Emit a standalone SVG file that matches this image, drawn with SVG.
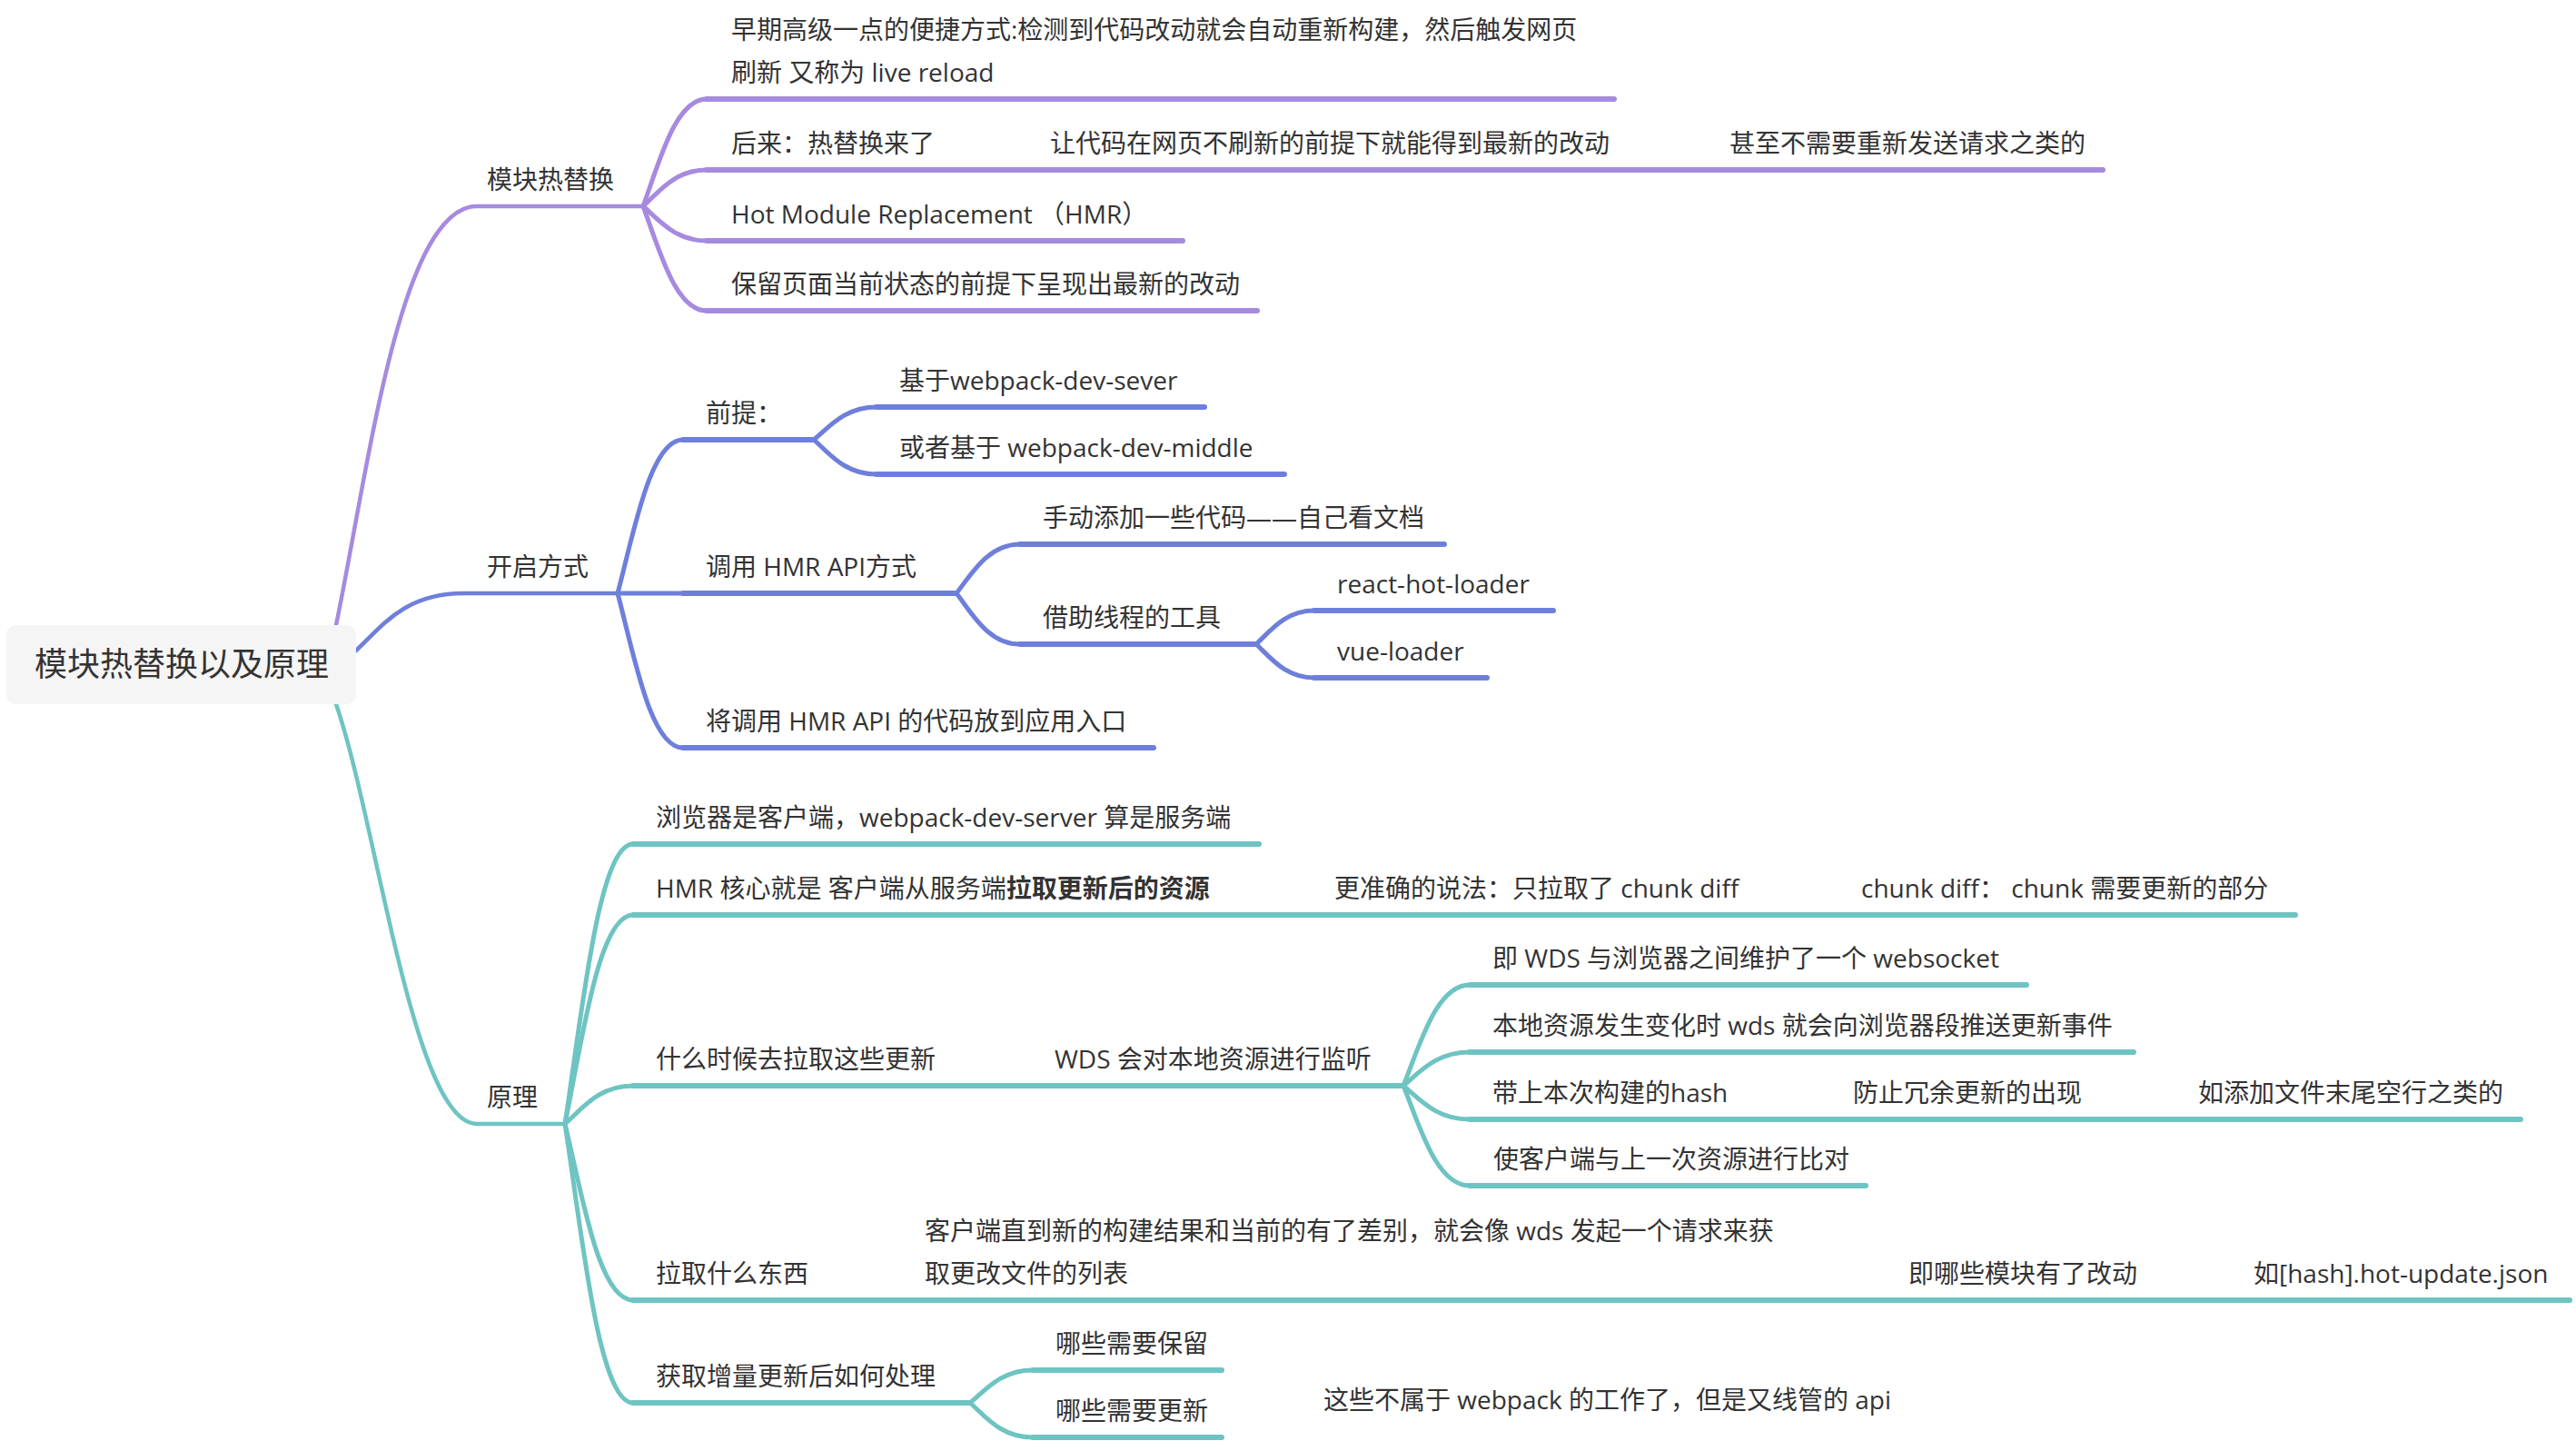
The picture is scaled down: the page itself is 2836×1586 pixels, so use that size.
<svg xmlns="http://www.w3.org/2000/svg" width="2836" height="1586" viewBox="0 0 2836 1586">
<style>
text{font-family:"Open Sans","Noto Sans CJK SC",sans-serif;font-size:28px;fill:#333}
.root{font-size:36px;text-anchor:middle}
.b{font-weight:bold}
path,line{fill:none;stroke-linecap:round;stroke-linejoin:round}
.p{stroke:#a68ae0}
.u{stroke:#6e7fdb}
.t{stroke:#6ec4c2}
.ul{stroke-width:6}
.mb{stroke-width:4.5}
.cn{stroke-width:5}
</style>
<rect width="2836" height="1586" fill="#ffffff"/>
<g id="connectors">
<path class="p mb" d="M370,688 C405,520 440,227 525,227 H708"/>
<path class="u mb" d="M392,716 C420,690 445,653 510,653 H680"/>
<path class="t mb" d="M370,775 C415,905 455,1237 525,1237 H622"/>
<path class="p cn" d="M708,227 C725.5,180 743,109 778,109"/>
<path class="p cn" d="M708,227 C725.5,211 743,187 778,187"/>
<path class="p cn" d="M708,227 C725.5,242 743,265 778,265"/>
<path class="p cn" d="M708,227 C725.5,273 743,342 778,342"/>
<path class="u cn" d="M680,653 C698,585 716,484 752,484"/>
<path class="u cn" d="M680,653 H752"/>
<path class="u cn" d="M680,653 C698,721 716,823 752,823"/>
<path class="u cn" d="M896,484 C913,470 930,448 965,448"/>
<path class="u cn" d="M896,484 C913,499 930,522 965,522"/>
<path class="u cn" d="M1053,653 C1070,631 1088,599 1123,599"/>
<path class="u cn" d="M1053,653 C1070,675 1088,709 1123,709"/>
<path class="u cn" d="M1383,709 C1399,694 1415,672 1447,672"/>
<path class="u cn" d="M1383,709 C1399,724 1415,746 1447,746"/>
<path class="t cn" d="M622,1237 C641,1114 659,929 697,929"/>
<path class="t cn" d="M622,1237 C641,1145 659,1007 697,1007"/>
<path class="t cn" d="M622,1237 C641,1220 659,1195 697,1195"/>
<path class="t cn" d="M622,1237 C641,1315 659,1431 697,1431"/>
<path class="t cn" d="M622,1237 C641,1360 659,1544 697,1544"/>
<path class="t cn" d="M1545,1195 C1563,1151 1581,1084 1618,1084"/>
<path class="t cn" d="M1545,1195 C1563,1180 1581,1158 1618,1158"/>
<path class="t cn" d="M1545,1195 C1563,1210 1581,1232 1618,1232"/>
<path class="t cn" d="M1545,1195 C1563,1239 1581,1305 1618,1305"/>
<path class="t cn" d="M1068,1544 C1085,1530 1102,1508 1137,1508"/>
<path class="t cn" d="M1068,1544 C1085,1559 1102,1582 1137,1582"/>
</g>
<g id="root">
<rect x="7" y="688" width="385" height="87" rx="10" fill="#f5f5f5"/>
<text class="root" x="200" y="744">模块热替换以及原理</text>
</g>
<g id="n-mkrth"><text x="536" y="208">模块热替换</text></g>
<g id="n-early"><path class="p ul" d="M778,109 H1777"/><text x="805" y="43">早期高级一点的便捷方式:检测到代码改动就会自动重新构建，然后触发网页</text><text x="805" y="90">刷新 又称为 live reload</text></g>
<g id="n-later"><path class="p ul" d="M778,187 H1140"/><text x="805" y="168">后来：热替换来了</text></g>
<g id="n-later2"><path class="p ul" d="M1140,187 H1880"/><text x="1156" y="168">让代码在网页不刷新的前提下就能得到最新的改动</text></g>
<g id="n-later3"><path class="p ul" d="M1880,187 H2315"/><text x="1904" y="168">甚至不需要重新发送请求之类的</text></g>
<g id="n-hmr"><path class="p ul" d="M778,265 H1302"/><text x="805" y="246">Hot Module Replacement （HMR）</text></g>
<g id="n-keep"><path class="p ul" d="M778,342 H1384"/><text x="805" y="323">保留页面当前状态的前提下呈现出最新的改动</text></g>
<g id="n-kqfs"><text x="536" y="634">开启方式</text></g>
<g id="n-qt"><path class="u ul" d="M752,484 H896"/><text x="777" y="465">前提：</text></g>
<g id="n-wds"><path class="u ul" d="M965,448 H1326"/><text x="990" y="429">基于webpack-dev-sever</text></g>
<g id="n-wdm"><path class="u ul" d="M965,522 H1414"/><text x="990" y="503">或者基于 webpack-dev-middle</text></g>
<g id="n-api"><path class="u ul" d="M752,653 H1053"/><text x="777" y="634">调用 HMR API方式</text></g>
<g id="n-manual"><path class="u ul" d="M1123,599 H1590"/><text x="1148" y="580">手动添加一些代码——自己看文档</text></g>
<g id="n-tool"><path class="u ul" d="M1123,709 H1383"/><text x="1148" y="690">借助线程的工具</text></g>
<g id="n-react"><path class="u ul" d="M1447,672 H1710"/><text x="1472" y="653">react-hot-loader</text></g>
<g id="n-vue"><path class="u ul" d="M1447,746 H1637"/><text x="1472" y="727">vue-loader</text></g>
<g id="n-entry"><path class="u ul" d="M752,823 H1270"/><text x="777" y="804">将调用 HMR API 的代码放到应用入口</text></g>
<g id="n-yl"><text x="536" y="1218">原理</text></g>
<g id="n-cs"><path class="t ul" d="M697,929 H1386"/><text x="722" y="910">浏览器是客户端，webpack-dev-server 算是服务端</text></g>
<g id="n-core"><path class="t ul" d="M697,1007 H1445"/><text x="722" y="988">HMR 核心就是 客户端从服务端<tspan class="b">拉取更新后的资源</tspan></text></g>
<g id="n-core2"><path class="t ul" d="M1445,1007 H2025"/><text x="1469" y="988">更准确的说法：只拉取了 chunk diff</text></g>
<g id="n-core3"><path class="t ul" d="M2025,1007 H2527"/><text x="2049" y="988">chunk diff： chunk 需要更新的部分</text></g>
<g id="n-when"><path class="t ul" d="M697,1195 H1137"/><text x="722" y="1176">什么时候去拉取这些更新</text></g>
<g id="n-watch"><path class="t ul" d="M1137,1195 H1545"/><text x="1161" y="1176">WDS 会对本地资源进行监听</text></g>
<g id="n-ws"><path class="t ul" d="M1618,1084 H2231"/><text x="1643" y="1065">即 WDS 与浏览器之间维护了一个 websocket</text></g>
<g id="n-push"><path class="t ul" d="M1618,1158 H2349"/><text x="1643" y="1139">本地资源发生变化时 wds 就会向浏览器段推送更新事件</text></g>
<g id="n-hash"><path class="t ul" d="M1618,1232 H2016"/><text x="1643" y="1213">带上本次构建的hash</text></g>
<g id="n-hash2"><path class="t ul" d="M2016,1232 H2396"/><text x="2040" y="1213">防止冗余更新的出现</text></g>
<g id="n-hash3"><path class="t ul" d="M2396,1232 H2775"/><text x="2420" y="1213">如添加文件末尾空行之类的</text></g>
<g id="n-cmp"><path class="t ul" d="M1618,1305 H2054"/><text x="1644" y="1286">使客户端与上一次资源进行比对</text></g>
<g id="n-what"><path class="t ul" d="M697,1431 H994"/><text x="722" y="1412">拉取什么东西</text></g>
<g id="n-what2"><path class="t ul" d="M994,1431 H2077"/><text x="1018" y="1365">客户端直到新的构建结果和当前的有了差别，就会像 wds 发起一个请求来获</text><text x="1018" y="1412">取更改文件的列表</text></g>
<g id="n-what3"><path class="t ul" d="M2077,1431 H2457"/><text x="2101" y="1412">即哪些模块有了改动</text></g>
<g id="n-what4"><path class="t ul" d="M2457,1431 H2829"/><text x="2481" y="1412">如[hash].hot-update.json</text></g>
<g id="n-how"><path class="t ul" d="M697,1544 H1068"/><text x="722" y="1525">获取增量更新后如何处理</text></g>
<g id="n-retain"><path class="t ul" d="M1137,1508 H1345"/><text x="1162" y="1489">哪些需要保留</text></g>
<g id="n-update"><path class="t ul" d="M1137,1582 H1345"/><text x="1162" y="1563">哪些需要更新</text></g>
<g id="n-notwp"><text x="1457" y="1551">这些不属于 webpack 的工作了，但是又线管的 api</text></g>
</svg>
